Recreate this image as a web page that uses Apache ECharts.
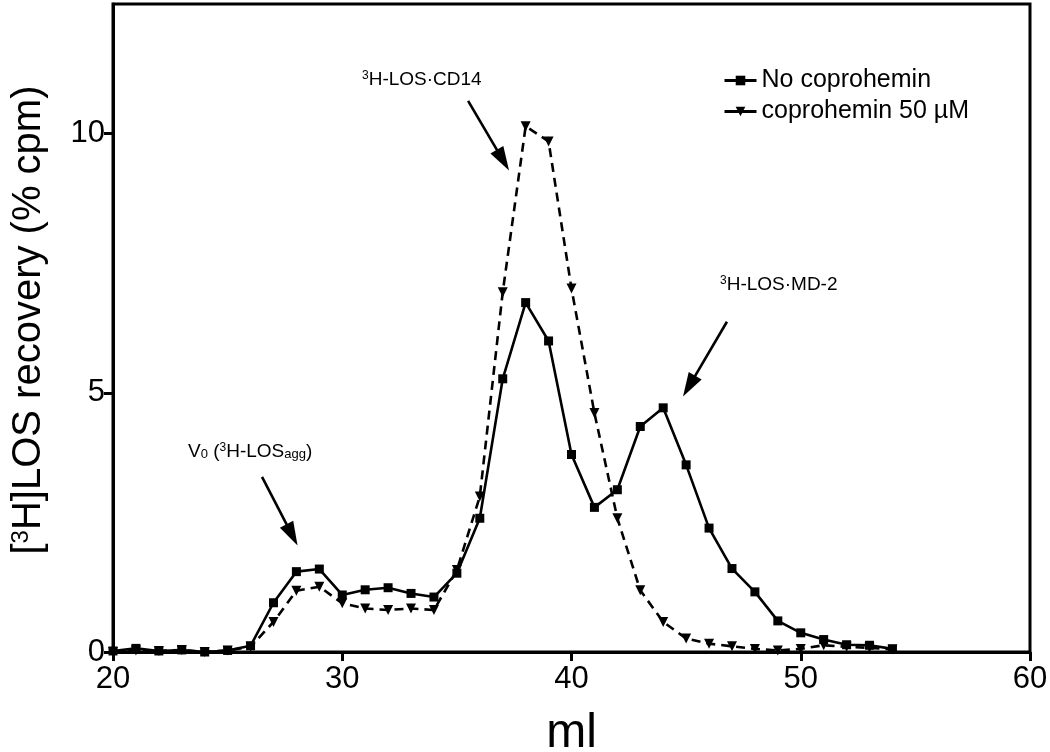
<!DOCTYPE html>
<html><head><meta charset="utf-8">
<script src="https://cdn.jsdelivr.net/npm/echarts@6/dist/echarts.min.js"></script>
<style>html,body{margin:0;padding:0;background:#fff}#c{width:1050px;height:752px}</style>
</head><body><div id="c"></div>
<script>
const ml = [20,21,22,23,24,25,26,27,28,29,30,31,32,33,34,35,36,37,38,39,40,41,42,43,44,45,46,47,48,49,50,51,52,53,54];
const noCoprohemin = [0.02,0.07,0.02,0.04,0.0,0.03,0.12,0.95,1.55,1.6,1.1,1.2,1.24,1.13,1.06,1.52,2.58,5.27,6.74,6.0,3.81,2.79,3.13,4.35,4.71,3.61,2.39,1.61,1.16,0.6,0.37,0.24,0.14,0.13,0.06];
const coprohemin50 = [0.0,0.03,0.02,0.04,0.0,0.03,0.1,0.58,1.18,1.26,0.94,0.84,0.81,0.84,0.81,1.58,3.0,6.94,10.14,9.85,7.01,4.61,2.58,1.19,0.58,0.26,0.16,0.11,0.06,0.03,0.06,0.13,0.1,0.08,0.05];
const xTicks = [20,30,40,50,60];
const yTicks = [0,5,10];
const arrows = [
  [[26.5,3.38],[27.81,2.26]],
  [[35.49,10.63],[37.01,9.49]],
  [[46.78,6.37],[45.13,5.13]]
];

const FONT = 'Liberation Sans, Arial, sans-serif';
const chart = echarts.init(document.getElementById('c'));
const pair = a => a.map((v,i)=>[ml[i], v]);
chart.setOption({
  animation:false,
  backgroundColor:'#fff',
  grid:{left:113,right:20,top:4,bottom:100,containLabel:false,outerBoundsMode:'none',
    show:true,borderColor:'#000',borderWidth:3,backgroundColor:'transparent'},
  xAxis:{type:'value',min:20,max:60,interval:10,
    axisLine:{show:true,lineStyle:{color:'#000',width:3}},
    axisTick:{show:true,length:9,lineStyle:{color:'#000',width:3},customValues:xTicks},
    axisLabel:{color:'#000',fontSize:31,fontFamily:FONT,margin:12,customValues:xTicks},
    splitLine:{show:false},
    name:'ml',nameLocation:'middle',nameGap:58,
    nameTextStyle:{color:'#000',fontSize:48,fontFamily:FONT,verticalAlign:'top'}},
  yAxis:{type:'value',min:0,max:12.5,interval:5,
    axisLine:{show:true,lineStyle:{color:'#000',width:3}},
    axisTick:{show:true,length:9,lineStyle:{color:'#000',width:3},customValues:yTicks},
    axisLabel:{color:'#000',fontSize:31,fontFamily:FONT,margin:8,customValues:yTicks},
    splitLine:{show:false},
    name:'[{s|3}H]LOS recovery (% cpm)',nameLocation:'middle',nameGap:64,nameRotate:90,
    nameTextStyle:{color:'#000',fontSize:40,fontFamily:FONT,padding:[0,0,0,16],
      rich:{s:{fontSize:24,fontFamily:FONT,color:'#000',verticalAlign:'top'}}}},
  legend:{left:718,top:63,orient:'vertical',itemGap:6,itemWidth:32,itemHeight:12,
    lineStyle:{type:'solid',width:3},
    textStyle:{color:'#000',fontSize:25,fontFamily:FONT},
    data:['No coprohemin','coprohemin 50 µM']},
  series:[
    {name:'No coprohemin',type:'line',data:pair(noCoprohemin),
     symbol:'rect',symbolSize:9,itemStyle:{color:'#000'},
     lineStyle:{color:'#000',width:2.6},z:3,
     markLine:{silent:true,symbol:['none','triangle'],symbolSize:[15,24],
       lineStyle:{color:'#000',width:2.6,type:'solid'},label:{show:false},
       data:arrows.map(a=>[{coord:a[0]},{coord:a[1]}])}},
    {name:'coprohemin 50 µM',type:'line',data:pair(coprohemin50),
     symbol:'triangle',symbolRotate:180,symbolSize:10,itemStyle:{color:'#000'},
     lineStyle:{color:'#000',width:2.6,type:[9,6]},z:2}
  ],
  graphic:[
    {type:'text',left:188,top:442,style:{text:'V{sub|0} ({sup|3}H-LOS{sub|agg})',fill:'#000',font:'19px '+FONT,
      rich:{sub:{fontSize:13,fontFamily:FONT,verticalAlign:'bottom',fill:'#000'},sup:{fontSize:12,fontFamily:FONT,verticalAlign:'top',fill:'#000'}}}},
    {type:'text',left:362,top:70,style:{text:'{sup|3}H-LOS·CD14',fill:'#000',font:'19px '+FONT,
      rich:{sup:{fontSize:12,fontFamily:FONT,verticalAlign:'top',fill:'#000'}}}},
    {type:'text',left:720,top:275,style:{text:'{sup|3}H-LOS·MD-2',fill:'#000',font:'19px '+FONT,
      rich:{sup:{fontSize:12,fontFamily:FONT,verticalAlign:'top',fill:'#000'}}}}
  ]
});
</script></body></html>
